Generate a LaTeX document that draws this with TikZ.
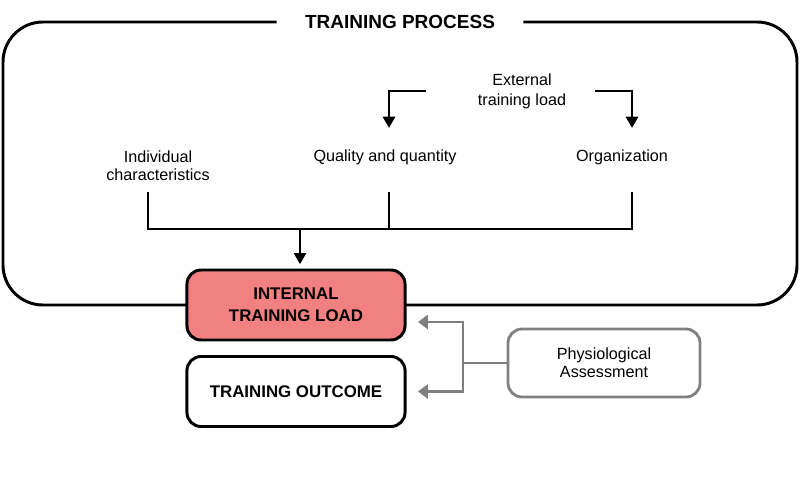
\documentclass[tikz,border=0pt]{standalone}
\usepackage{fontspec}
\setmainfont{Liberation Sans}
\usetikzlibrary{arrows.meta}
\definecolor{loadred}{RGB}{241,128,128}
\definecolor{assessgray}{RGB}{128,128,128}
\begin{document}
\begin{tikzpicture}[x=0.025cm,y=-0.025cm,
  every node/.style={font=\fontsize{11.5}{13}\selectfont,align=center},
  frame/.style={line width=2.1pt,rounded corners=1cm},
  wire/.style={line width=2.1pt},
  arr/.style={wire,-{Triangle[length=8pt,width=8.5pt]}},
  loadbox/.style={draw,line width=2.1pt,rounded corners=10pt,minimum width=5.45cm,minimum height=1.75cm,font=\fontsize{12}{15.5}\selectfont\bfseries},
  gwire/.style={line width=2pt,assessgray},
  garr/.style={gwire,-{Triangle[length=7pt,width=10pt]}}]
\useasboundingbox (0,0) rectangle (800,490);
% training process frame, open at the title
\node[font=\fontsize{13.5}{16}\selectfont\bfseries,inner xsep=20pt] (title) at (400,22) {TRAINING PROCESS};
\draw[frame] (title.east) -- (797,22) -- (797,305) -- (3,305) -- (3,22) -- (title.west);
% external load and its factors
\node[font=\fontsize{11.5}{14}\selectfont] (ext) at (522,91) {External\\training load};
\node (indiv) at (158,166) {Individual\\characteristics};
\node (qual) at (385,157) {Quality and quantity};
\node (org) at (622,157) {Organization};
\coordinate (extL) at (426,91);
\coordinate (extR) at (595,91);
\coordinate (qualT) at (389,128);
\coordinate (orgT) at (632,128);
\draw[arr] (extL) -| (qualT);
\draw[arr] (extR) -| (orgT);
% collecting bar
\coordinate (indivB) at (148,192);
\coordinate (qualB) at (389,192);
\coordinate (orgB) at (632,192);
\draw[wire] (indivB) |- (632,229) -- (orgB);
\draw[wire] (qualB) -- (389,229);
% boxes
\node[loadbox,fill=loadred] (load) at (296,305) {INTERNAL\\TRAINING LOAD};
\node[loadbox,fill=white] (outcome) at (296,391.5) {TRAINING OUTCOME};
\node[draw,assessgray,text=black,line width=2pt,rounded corners=10pt,minimum width=4.8cm,minimum height=1.7cm] (phys) at (604,363) {Physiological\\Assessment};
\draw[arr,shorten >=3pt] (300,229) -- (load.north -| 300,0);
% assessment feedback
\coordinate (loadT) at (418,322);
\coordinate (outT) at (418,391.5);
\draw[gwire] (phys.west) -- (463,363) coordinate (split);
\draw[garr] (split) |- (loadT);
\draw[garr] (split) |- (outT);
\end{tikzpicture}
\end{document}
